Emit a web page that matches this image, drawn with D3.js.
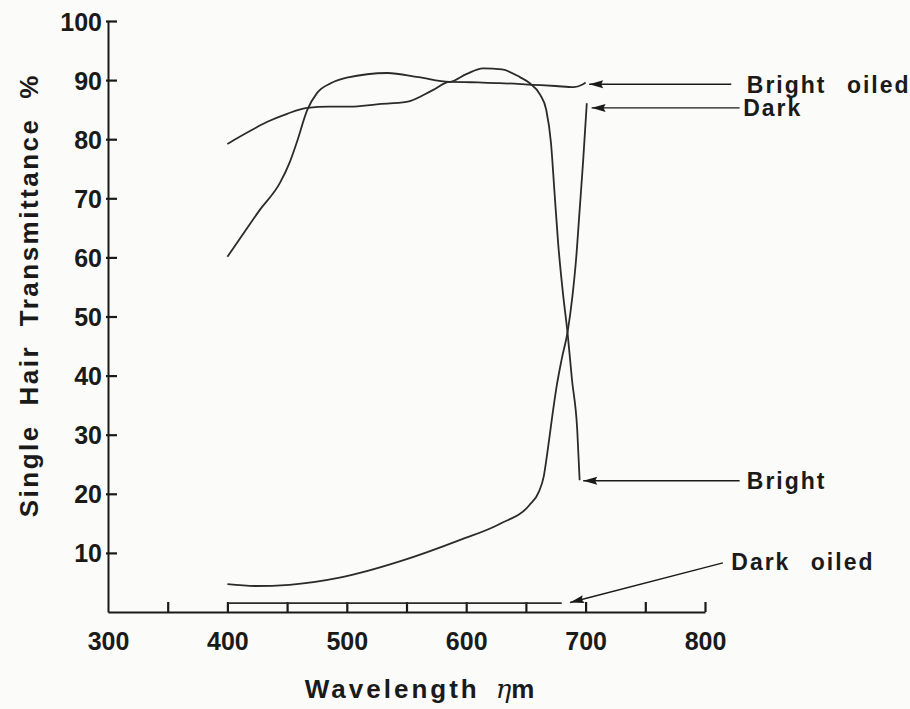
<!DOCTYPE html>
<html>
<head>
<meta charset="utf-8">
<script src="https://cdn.jsdelivr.net/npm/d3@7"></script>
<style>
  body { margin: 0; background: #fbfbf9; }
  svg { display: block; }
  .tick text { font-family: "Liberation Sans", Arial, sans-serif; font-weight: bold; fill: #1a1a1a; }
  .lbl { font-family: "Liberation Sans", Arial, sans-serif; font-weight: bold; fill: #1a1a1a; }
</style>
</head>
<body>
<div id="chart"></div>
<script>
// wavelength (nm), transmittance (%)
const brightOiled = [[400, 79.2], [420, 81.5], [433, 82.9], [450, 84.3], [467, 85.3], [485, 85.5], [503, 85.5],
  [525, 85.9], [550, 86.3], [572, 88.3], [586, 89.7], [610, 89.6], [628, 89.5], [656, 89.2], [675, 89.0],
  [690, 88.8], [697, 89.2], [700, 89.6]];
const bright = [[400, 60.1], [415, 64.5], [427, 68], [444, 72.6], [452, 76], [458, 79.4], [467, 85], [475, 87.8],
  [487, 89.5], [500, 90.4], [534, 91.2], [560, 90.5], [586, 89.7], [600, 91], [614, 92], [630, 91.8],
  [645, 90.5], [653, 89.5], [662, 87.5], [667, 85], [671, 79.4], [674, 70.9], [677, 62.4], [681, 54],
  [685, 47], [688.6, 39.3], [693, 30.8], [695, 22.3]];
const dark = [[400, 4.7], [423, 4.4], [452, 4.6], [494, 5.8], [545, 8.6], [595, 12.2], [628, 14.9], [653, 18.1],
  [661, 20.4], [665, 23], [668, 27], [672, 33], [676, 38.5], [680, 42.8], [685, 47.5], [689, 53.5],
  [692, 59.6], [695, 68], [698, 76.5], [701, 86.1]];
const darkOiled = [[400, 1.5], [680, 1.5]];

const xTicks = [300, 350, 400, 450, 500, 550, 600, 650, 700, 750, 800];
const yTicks = [10, 20, 30, 40, 50, 60, 70, 80, 90, 100];

// label, arrow tip [nm, %], arrow tail [nm, %], text position [nm, %]
const notes = [
  { name: "Bright oiled", tip: [703, 89.3], tail: [822, 89.3], at: [835, 89.3] },
  { name: "Dark", tip: [705, 85.3], tail: [829, 85.3], at: [832, 85.3] },
  { name: "Bright", tip: [698, 22.2], tail: [829, 22.2], at: [835, 22.2] },
  { name: "Dark oiled", tip: [687, 1.6], tail: [815, 8.3], at: [822, 8.5] }
];

let width = 910, height = 709;

let x = d3.scaleLinear().domain([300, 800]).range([108, 705]);
let y = d3.scaleLinear().domain([0, 100]).range([612, 21]);

let svg = d3.select('#chart').append('svg')
  .attr('width', width)
  .attr('height', height);

svg.append('defs').append('marker')
  .attr('id', 'head')
  .attr('viewBox', '0 -5 15 10')
  .attr('refX', 0).attr('refY', 0)
  .attr('markerUnits', 'userSpaceOnUse')
  .attr('markerWidth', 15).attr('markerHeight', 10)
  .attr('orient', 'auto')
  .append('path')
  .attr('d', 'M0,0L14,-4L12,0L14,4Z')
  .attr('fill', '#1a1a1a');

// axes
let xAxis = svg.append('g')
  .attr('transform', `translate(0,${y(0)})`)
  .call(d3.axisBottom(x).tickValues(xTicks).tickSizeInner(-10).tickSizeOuter(0).tickPadding(20)
    .tickFormat(d => d % 100 === 0 ? d : ''));
xAxis.selectAll('.tick line').attr('stroke-width', 2.2).attr('stroke', '#1a1a1a')
  .filter(d => d === 300).remove();
xAxis.selectAll('.tick text').style('font-size', '25px');
xAxis.select('.domain').attr('stroke-width', 2).attr('stroke', '#1a1a1a');

let yAxis = svg.append('g')
  .attr('transform', `translate(${x(300)},0)`)
  .call(d3.axisLeft(y).tickValues(yTicks).tickSizeInner(-9).tickSizeOuter(0).tickPadding(6));
yAxis.selectAll('.tick line').attr('stroke-width', 2.2).attr('stroke', '#1a1a1a')
  .attr('x1', -2);
yAxis.selectAll('.tick text').style('font-size', '25px').attr('dy', '0.36em');
yAxis.select('.domain').attr('stroke-width', 2).attr('stroke', '#1a1a1a');

// axis titles
svg.append('text').attr('class', 'lbl')
  .attr('transform', `translate(38,${y(53.6)}) rotate(-90)`)
  .attr('text-anchor', 'middle')
  .style('font-size', '26px')
  .style('letter-spacing', '2.5px')
  .style('word-spacing', '9px')
  .text('Single Hair Transmittance %');

let xt = svg.append('text').attr('class', 'lbl')
  .attr('x', x(561)).attr('y', 698)
  .attr('text-anchor', 'middle')
  .style('font-size', '26px')
  .style('letter-spacing', '3px');
xt.append('tspan').text('Wavelength');
xt.append('tspan').attr('dx', 16).style('font-family', '"DejaVu Serif", serif')
  .style('font-style', 'italic').style('font-weight', 'normal').style('letter-spacing', '0px').text('η');
xt.append('tspan').text('m').style('letter-spacing', '0px');

// curves
let line = d3.line()
  .x(d => x(d[0]))
  .y(d => y(d[1]))
  .curve(d3.curveMonotoneX);

[brightOiled, bright, dark, darkOiled].forEach(series => {
  svg.append('path')
    .datum(series)
    .attr('d', line)
    .attr('fill', 'none')
    .attr('stroke', '#2b2b2b')
    .attr('stroke-width', 1.8)
    .attr('stroke-linejoin', 'round');
});

// labels with arrows
let note = svg.selectAll('.note')
  .data(notes)
  .enter()
  .append('g').attr('class', 'note');

note.append('line')
  .attr('x1', d => x(d.tip[0])).attr('y1', d => y(d.tip[1]))
  .attr('x2', d => x(d.tail[0])).attr('y2', d => y(d.tail[1]))
  .attr('stroke', '#1a1a1a')
  .attr('stroke-width', 1.4)
  .attr('marker-start', 'url(#head)');

note.append('text').attr('class', 'lbl')
  .attr('x', d => x(d.at[0]))
  .attr('y', d => y(d.at[1]))
  .attr('dy', '0.36em')
  .style('font-size', '23px')
  .style('letter-spacing', '2px')
  .style('word-spacing', '12px')
  .text(d => d.name);
</script>
</body>
</html>
